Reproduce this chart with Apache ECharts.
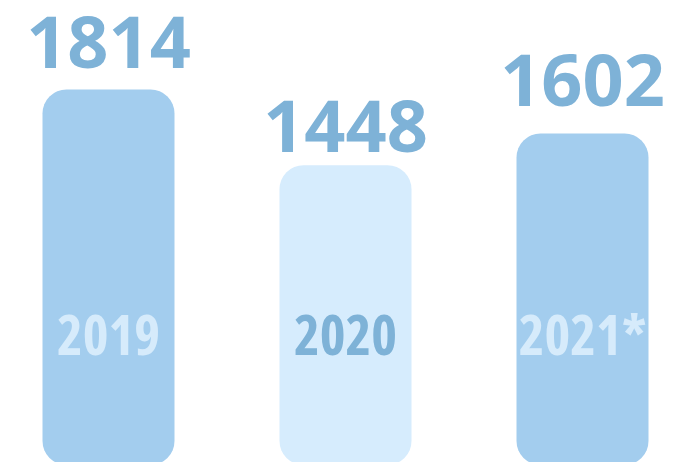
<!DOCTYPE html>
<html>
<head>
<meta charset="utf-8">
<script src="https://cdn.jsdelivr.net/npm/echarts@6/dist/echarts.min.js"></script>
<style>
  html, body { margin: 0; padding: 0; background: #fff; overflow: hidden; }
</style>
</head>
<body>
<!-- chart is a bit wider/taller than the window so the outer bars and the bottom are cut like the original -->
<div id="main" style="width: 711px; height: 470px; margin-left: -10px"></div>
<script>
// data
const years = ["2019", "2020", "2021*"];
const values = [1814, 1448, 1602];
const barColors = ["#a3cdee", "#d6ecfd", "#a3cdee"];
const yearColors = ["#d6ebfb", "#7eb2d7", "#d6ebfb"];
const labelGap = [6, -2, 12]; // the numbers don't sit at the same height above each bar

let myChart = echarts.init(document.getElementById("main"));
myChart.setOption({
  animation: false,
  grid: { left: 0, right: 0, top: 51, bottom: 5 },
  xAxis: {
    type: "category",
    data: years,
    z: 10,
    axisLine: { show: false },
    axisTick: { show: false },
    axisLabel: {
      inside: true,
      margin: 126,
      verticalAlign: "middle",
      fontFamily: "'Open Sans', sans-serif",
      fontWeight: "bold condensed",
      fontSize: 55,
      color: (val, idx) => yearColors[idx],
    },
  },
  yAxis: {
    type: "value",
    min: 0,
    max: 2000,
    show: false,
    splitLine: { show: false },
  },
  series: [
    {
      type: "bar",
      barWidth: 132,
      data: values.map((v, i) => ({
        value: v,
        itemStyle: { color: barColors[i] },
        label: { distance: labelGap[i] },
      })),
      itemStyle: { borderRadius: 24 },
      label: {
        show: true,
        position: "top",
        color: "#7eb2d7",
        fontFamily: "'Open Sans', sans-serif",
        fontWeight: "bold",
        fontSize: 72,
      },
    },
  ],
});
</script>
</body>
</html>
